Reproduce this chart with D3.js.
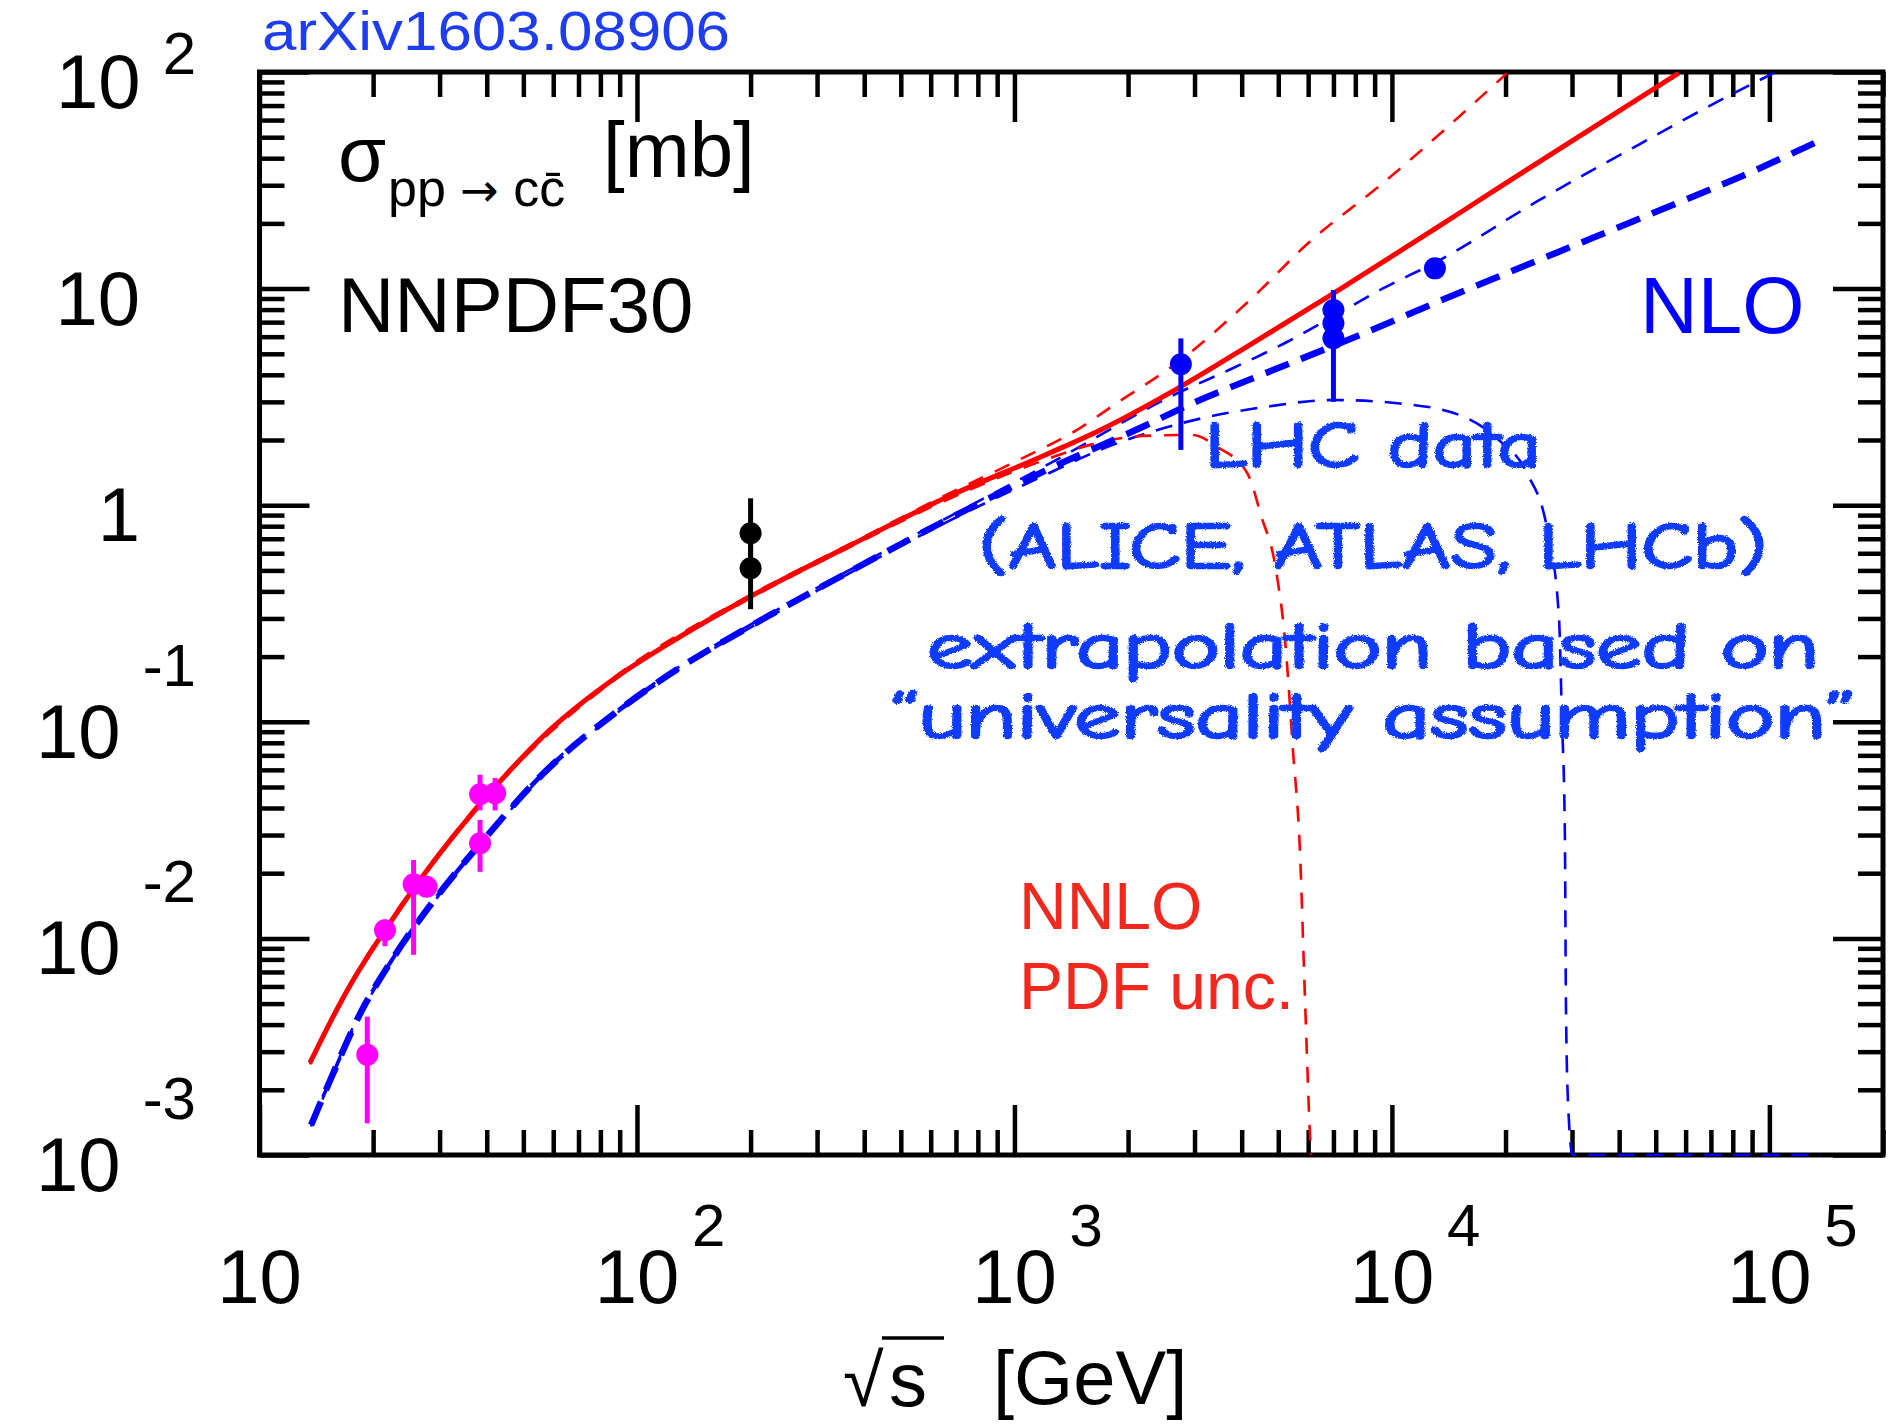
<!DOCTYPE html>
<html>
<head>
<meta charset="utf-8">
<title>Charm pair production cross section vs sqrt(s)</title>
<script src="https://cdn.jsdelivr.net/npm/d3@7/dist/d3.min.js"></script>
<style>
  html, body { margin: 0; padding: 0; background: #fff; }
  svg { display: block; }
  .root { font-family: "Liberation Sans", Arial, Helvetica, sans-serif; }
  .hand { font-family: "Comic Sans MS", "Comic Neue", "DejaVu Sans", cursive; }
</style>
</head>
<body>
<svg id="chart" width="1896" height="1425"></svg>
<script>
// ---------------- axis ranges and tick labels ----------------
const xDomain = [10, 2e5];          // sqrt(s) [GeV]
const yDomain = [1e-3, 1e2];        // sigma [mb]

const xMajorTicks = [10, 1e2, 1e3, 1e4, 1e5];
const xTickExps   = ['', '2', '3', '4', '5'];
const yMajorTicks = [1e-3, 1e-2, 1e-1, 1, 10, 1e2];
const yTickBases  = ['10', '10', '10', '1', '10', '10'];
const yTickExps   = ['-3', '-2', '-1', '', '', '2'];

// ---------------- theory curves: [sqrt(s) GeV, sigma mb] ----------------
// NNLO central (solid red)
const nnloCentral = [
  [13.6, 2.66e-3], [15.4, 4.11e-3], [17.4, 6.09e-3], [21.5, 1.09e-2], [26.6, 1.86e-2],
  [38.4, 4.17e-2], [48.1, 6.45e-2], [58.8, 9.17e-2], [87.4, 0.159], [130, 0.247],
  [196, 0.372], [360, 0.641], [663, 1.09], [1219, 1.72], [1685, 2.22], [2744, 3.51],
  [4206, 5.5], [7020, 9.54], [12840, 18.6], [18750, 28.5], [57590, 99.0]
];
// NNLO PDF uncertainty, upper edge (thin dashed red)
const nnloUpper = [
  [13.6, 2.70e-3], [17.4, 6.18e-3], [26.6, 1.89e-2], [48.1, 6.55e-2], [87.4, 0.1614],
  [196, 0.378], [360, 0.652], [663, 1.12], [991, 1.57], [1491, 2.27], [1824, 2.88],
  [2790, 4.75], [4206, 8.86], [6066, 16.5], [9294, 29.9], [20160, 98.6]
];
// NNLO PDF uncertainty, lower edge (thin dashed red)
const nnloLower = [
  [13.6, 2.62e-3], [17.4, 6.0e-3], [26.6, 1.83e-2], [48.1, 6.35e-2], [87.4, 0.1566],
  [196, 0.366], [360, 0.631], [663, 1.06], [1219, 1.63], [1685, 1.95], [2190, 2.09],
  [2971, 2.11], [3439, 1.86], [4145, 1.40], [4512, 0.885], [4914, 0.52], [5238, 0.215],
  [5468, 0.074], [5705, 0.0256], [5882, 5.4e-3], [6083, 1.14e-3], [6110, 1e-3]
];
// NLO central (thick dashed blue)
const nloCentral = [
  [13.7, 1.375e-3], [15.4, 2.22e-3], [18.5, 4.51e-3], [22.6, 8.12e-3], [29.5, 1.558e-2],
  [39.2, 2.846e-2], [56.5, 5.78e-2], [87.4, 0.1097], [130, 0.178], [195, 0.270],
  [359, 0.485], [661, 0.8545], [1217, 1.454], [2240, 2.346], [2971, 2.963], [4390, 3.921],
  [8227, 6.107], [14600, 9.344], [27190, 14.6], [50650, 22.8], [83530, 32.75], [136900, 48.5]
];
// NLO PDF uncertainty, upper edge (thin dashed blue)
const nloUpper = [
  [13.7, 1.396e-3], [15.4, 2.25e-3], [18.5, 4.58e-3], [22.6, 8.24e-3], [29.5, 1.581e-2],
  [39.2, 2.89e-2], [56.5, 5.87e-2], [87.4, 0.1113], [130, 0.1807], [195, 0.274],
  [359, 0.493], [661, 0.872], [1217, 1.53], [2744, 3.33], [3701, 4.21], [5335, 5.73],
  [7020, 7.47], [9409, 9.96], [13240, 13.4], [24360, 25.4], [45380, 46.5], [74380, 74.3],
  [102800, 99.0]
];
// NLO PDF uncertainty, lower edge (thin dashed blue)
const nloLower = [
  [13.7, 1.354e-3], [15.4, 2.19e-3], [18.5, 4.44e-3], [22.6, 8.0e-3], [29.5, 1.535e-2],
  [39.2, 2.80e-2], [56.5, 5.69e-2], [87.4, 0.108], [130, 0.1753], [195, 0.266],
  [359, 0.477], [661, 0.835], [1217, 1.39], [1685, 1.80], [2795, 2.40], [4666, 2.85],
  [6978, 3.06], [10500, 2.95], [15510, 2.56], [19200, 2.0], [22780, 1.41], [25900, 0.744],
  [27700, 0.306], [28200, 0.106], [28720, 0.0307], [28900, 5.4e-3], [29260, 1.8e-3],
  [30100, 1e-3], [136900, 1e-3]
];

// ---------------- measurements: [sqrt(s), sigma, low, high] ----------------
const fixedTargetData = [
  [19.3, 2.9e-3, 1.40e-3, 4.35e-3],
  [21.5, 1.09e-2, 9.2e-3, 1.22e-2],
  [25.6, 1.78e-2, 8.4e-3, 2.30e-2],
  [27.7, 1.73e-2, 1.60e-2, 1.90e-2],
  [38.4, 4.63e-2, 3.90e-2, 5.70e-2],
  [38.4, 2.75e-2, 2.03e-2, 3.52e-2],
  [42.1, 4.68e-2, 3.90e-2, 5.50e-2]
];
const rhicData = [
  [200, 0.742, 0.55, 1.076],
  [200, 0.512, 0.331, 0.70]
];
const lhcData = [
  [2760, 4.47, 1.80, 5.89],
  [7000, 7.96, 6.9, 9.85],
  [7000, 6.91, 5.9, 7.96],
  [7000, 5.90, 3.0, 7.0],
  [13000, 12.4, 11.5, 13.3]
];

// ---------------- layout ----------------
const plot = { left: 259.5, right: 1883, top: 72, bottom: 1155 };
const svg = d3.select('#chart');

const x = d3.scaleLog().domain(xDomain).range([plot.left, plot.right]);
const y = d3.scaleLog().domain(yDomain).range([plot.bottom, plot.top]);

const defs = svg.append('defs');
defs.append('clipPath').attr('id', 'plotArea')
  .append('rect')
  .attr('x', plot.left).attr('y', plot.top)
  .attr('width', plot.right - plot.left).attr('height', plot.bottom - plot.top + 2);

// rough marker-pen edges for the handwritten note
const chalk = defs.append('filter').attr('id', 'chalk')
  .attr('x', '-5%').attr('y', '-30%').attr('width', '110%').attr('height', '160%');
chalk.append('feTurbulence').attr('type', 'fractalNoise').attr('baseFrequency', 0.9)
  .attr('numOctaves', 2).attr('seed', 4).attr('result', 'noise');
chalk.append('feDisplacementMap').attr('in', 'SourceGraphic').attr('in2', 'noise')
  .attr('scale', 3.5).attr('xChannelSelector', 'R').attr('yChannelSelector', 'G');

// ---------------- frame and ticks ----------------
const isDecade = v => Math.abs(Math.log10(v) - Math.round(Math.log10(v))) < 1e-9;
const xMinorTicks = x.ticks().filter(v => !isDecade(v));
const yMinorTicks = y.ticks().filter(v => !isDecade(v));

const axesG = svg.append('g').attr('class', 'axes');

function tickRow(axisGen, transform, values, len) {
  const g = axesG.append('g').attr('transform', transform)
    .call(axisGen.tickValues(values).tickSizeInner(-len).tickSizeOuter(0).tickFormat(() => ''));
  g.select('.domain').remove();
  g.selectAll('.tick text').remove();
  g.selectAll('.tick line').attr('stroke', '#000').attr('stroke-width', 4.5);
}
const majorLen = 50, minorLen = 25;
tickRow(d3.axisBottom(x), `translate(0,${plot.bottom})`, xMajorTicks, majorLen);
tickRow(d3.axisBottom(x), `translate(0,${plot.bottom})`, xMinorTicks, minorLen);
tickRow(d3.axisTop(x), `translate(0,${plot.top})`, xMajorTicks, majorLen);
tickRow(d3.axisTop(x), `translate(0,${plot.top})`, xMinorTicks, minorLen);
tickRow(d3.axisLeft(y), `translate(${plot.left},0)`, yMajorTicks, majorLen);
tickRow(d3.axisLeft(y), `translate(${plot.left},0)`, yMinorTicks, minorLen);
tickRow(d3.axisRight(y), `translate(${plot.right},0)`, yMajorTicks, majorLen);
tickRow(d3.axisRight(y), `translate(${plot.right},0)`, yMinorTicks, minorLen);

axesG.append('rect')
  .attr('x', plot.left).attr('y', plot.top)
  .attr('width', plot.right - plot.left).attr('height', plot.bottom - plot.top)
  .attr('fill', 'none').attr('stroke', '#000').attr('stroke-width', 5);

// ---------------- tick labels ----------------
const labelsG = svg.append('g').attr('class', 'root').attr('fill', '#000');
const baseSize = 76, expSize = 60;

xMajorTicks.forEach((v, i) => {
  labelsG.append('text')
    .attr('x', x(v)).attr('y', 1303)
    .attr('text-anchor', 'middle').attr('font-size', baseSize)
    .text('10');
  if (xTickExps[i]) {
    labelsG.append('text')
      .attr('x', x(v) + 55).attr('y', 1246)
      .attr('font-size', expSize)
      .text(xTickExps[i]);
  }
});

yMajorTicks.forEach((v, i) => {
  const exp = yTickExps[i];
  const t = labelsG.append('text')
    .attr('y', y(v) + 36)
    .attr('text-anchor', 'end').attr('font-size', baseSize);
  if (!exp) {
    t.attr('x', 140).text(yTickBases[i]);
  } else {
    t.attr('x', 196);
    t.append('tspan').text(yTickBases[i]);
    const raise = exp.startsWith('-') ? 72 : 34;
    t.append('tspan').attr('dx', 22).attr('dy', -raise).attr('font-size', expSize).text(exp);
  }
});

// ---------------- curves ----------------
const line = d3.line()
  .x(d => x(d[0]))
  .y(d => y(d[1]))
  .curve(d3.curveMonotoneX);

const curvesG = svg.append('g').attr('clip-path', 'url(#plotArea)').attr('fill', 'none');

const curveStyles = [
  { data: nloLower,    color: '#0000ff', width: 2.6, dash: '17,12' },
  { data: nloUpper,    color: '#0000ff', width: 2.6, dash: '17,12' },
  { data: nnloLower,   color: '#ff0000', width: 2.6, dash: '16,13' },
  { data: nnloUpper,   color: '#ff0000', width: 2.6, dash: '16,13' },
  { data: nloCentral,  color: '#0000ff', width: 6.5, dash: '25,13' },
  { data: nnloCentral, color: '#ff0000', width: 5,   dash: null }
];
curveStyles.forEach(c => {
  curvesG.append('path')
    .attr('d', line(c.data))
    .attr('stroke', c.color)
    .attr('stroke-width', c.width)
    .attr('stroke-dasharray', c.dash)
    .attr('stroke-linejoin', 'round');
});

// ---------------- measurements ----------------
function drawPoints(data, color) {
  const g = svg.append('g');
  g.selectAll('line.err').data(data).join('line')
    .attr('x1', d => x(d[0])).attr('x2', d => x(d[0]))
    .attr('y1', d => y(d[2])).attr('y2', d => y(d[3]))
    .attr('stroke', color).attr('stroke-width', 5);
  g.selectAll('circle').data(data).join('circle')
    .attr('cx', d => x(d[0])).attr('cy', d => y(d[1]))
    .attr('r', 11).attr('fill', color);
}
drawPoints(fixedTargetData, '#ff00ff');
drawPoints(rhicData, '#000000');
drawPoints(lhcData, '#0000ff');

// ---------------- annotations ----------------
const ann = svg.append('g').attr('class', 'root');

ann.append('text').attr('x', 262).attr('y', 50)
  .attr('font-size', 56).attr('fill', '#1e3cf0')
  .attr('textLength', 468).attr('lengthAdjust', 'spacingAndGlyphs')
  .text('arXiv1603.08906');

ann.append('text').attr('x', 338).attr('y', 181).attr('font-size', 78).text('σ');
const sub = ann.append('text').attr('x', 388).attr('y', 206).attr('font-size', 52);
sub.append('tspan').text('pp ');
sub.append('tspan').attr('font-family', '"DejaVu Sans", sans-serif').attr('font-size', 46).text('\u2192');
sub.append('tspan').text(' cc\u0304');
ann.append('text').attr('x', 603).attr('y', 177).attr('font-size', 78).text('[mb]');

ann.append('text').attr('x', 338).attr('y', 332).attr('font-size', 78).text('NNPDF30');

ann.append('text').attr('x', 1640).attr('y', 333).attr('font-size', 80)
  .attr('fill', '#0000ff').text('NLO');

ann.append('text').attr('x', 1019).attr('y', 929).attr('font-size', 66)
  .attr('fill', '#f0281e').text('NNLO');
ann.append('text').attr('x', 1019).attr('y', 1009).attr('font-size', 66)
  .attr('fill', '#f0281e').text('PDF unc.');

// x-axis title: sqrt(s) [GeV]
ann.append('text').attr('x', 843).attr('y', 1406).attr('font-size', 74).text('\u221A');
ann.append('text').attr('x', 889).attr('y', 1406).attr('font-size', 76).text('s');
ann.append('line').attr('x1', 882).attr('x2', 944).attr('y1', 1338).attr('y2', 1338)
  .attr('stroke', '#000').attr('stroke-width', 3.5);
ann.append('text').attr('x', 993).attr('y', 1404).attr('font-size', 76).text('[GeV]');

// handwritten note on the LHC data
const noteLines = [
  { text: 'LHC data', y: 467, len: 336 },
  { text: '(ALICE, ATLAS, LHCb)', y: 568, len: 788 },
  { text: 'extrapolation based on', y: 668, len: 892 },
  { text: '\u201Cuniversality assumption\u201D', y: 738, len: 966 }
];
const note = svg.append('g').attr('class', 'hand')
  .attr('fill', '#0b3bff').attr('stroke', '#0b3bff').attr('stroke-width', 2.4)
  .attr('stroke-linejoin', 'round').attr('filter', 'url(#chalk)');
noteLines.forEach(l => {
  note.append('text')
    .attr('x', 1373).attr('y', l.y)
    .attr('text-anchor', 'middle').attr('font-size', 64)
    .attr('textLength', l.len).attr('lengthAdjust', 'spacingAndGlyphs')
    .text(l.text);
});
</script>
</body>
</html>
